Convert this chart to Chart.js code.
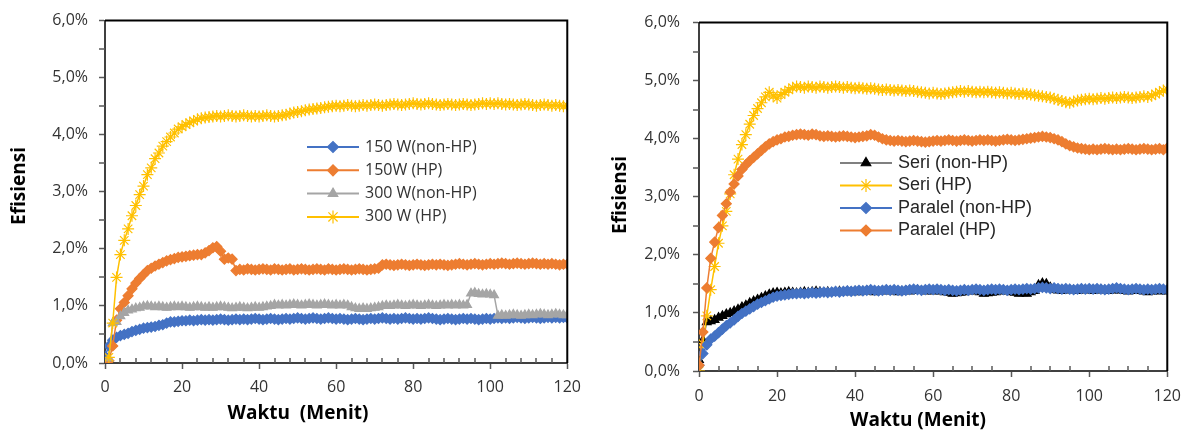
<!DOCTYPE html>
<html>
<head>
<meta charset="utf-8">
<title>Efisiensi terhadap Waktu</title>
<script src="https://cdn.jsdelivr.net/npm/chart.js@4.4.1/dist/chart.umd.min.js"></script>
<style>
  html, body { margin: 0; padding: 0; background: #fff; }
  #wrap { position: relative; width: 1191px; height: 435px; }
  .panel { position: absolute; top: 0; height: 435px; }
</style>
</head>
<body>
<div id="wrap">
  <div class="panel" style="left:0;width:590px"><canvas id="grafikDaya" width="590" height="435"></canvas></div>
  <div class="panel" style="left:595px;width:596px"><canvas id="grafikRangkaian" width="596" height="435"></canvas></div>
</div>
<script>
// waktu pengambilan data (menit)
const menit = [
  0,1,2,3,4,5,6,7,8,9,10,11,12,13,14,15,16,17,18,19,20,
  21,22,23,24,25,26,27,28,29,30,31,32,33,34,35,36,37,38,39,40,
  41,42,43,44,45,46,47,48,49,50,51,52,53,54,55,56,57,58,59,60,
  61,62,63,64,65,66,67,68,69,70,71,72,73,74,75,76,77,78,79,80,
  81,82,83,84,85,86,87,88,89,90,91,92,93,94,95,96,97,98,99,100,
  101,102,103,104,105,106,107,108,109,110,111,112,113,114,115,116,117,118,119,120
];

// efisiensi (%) - variasi daya
const daya150Non = [
  0.12,0.30,0.40,0.45,0.48,0.50,0.52,0.55,0.57,0.59,0.61,0.62,0.63,0.64,0.66,0.67,0.70,0.72,0.72,0.73,0.74,
  0.74,0.75,0.74,0.75,0.76,0.75,0.76,0.75,0.76,0.77,0.76,0.75,0.76,0.77,0.76,0.77,0.76,0.77,0.78,0.77,
  0.76,0.77,0.78,0.77,0.76,0.77,0.78,0.77,0.78,0.79,0.78,0.77,0.78,0.79,0.78,0.77,0.78,0.79,0.78,0.77,
  0.78,0.77,0.76,0.77,0.78,0.77,0.76,0.77,0.78,0.77,0.78,0.79,0.78,0.77,0.78,0.77,0.78,0.79,0.78,0.77,
  0.78,0.77,0.78,0.79,0.78,0.77,0.76,0.77,0.78,0.77,0.76,0.77,0.78,0.77,0.78,0.77,0.76,0.77,0.78,0.77,
  0.78,0.79,0.78,0.79,0.78,0.79,0.80,0.79,0.78,0.79,0.80,0.79,0.78,0.79,0.80,0.79,0.80,0.79,0.80,0.79
];
const daya150HP = [
  null,0.04,0.30,0.75,0.95,1.06,1.18,1.30,1.40,1.48,1.55,1.62,1.66,1.70,1.73,1.76,1.79,1.81,1.83,1.85,1.86,
  1.87,1.88,1.89,1.90,1.90,1.93,1.97,2.02,2.04,1.96,1.82,1.84,1.82,1.62,1.64,1.63,1.65,1.64,1.63,1.64,
  1.65,1.64,1.63,1.65,1.64,1.63,1.64,1.65,1.63,1.64,1.65,1.64,1.63,1.64,1.65,1.64,1.63,1.65,1.64,1.63,
  1.64,1.65,1.64,1.63,1.64,1.65,1.64,1.63,1.64,1.65,1.66,1.72,1.73,1.72,1.71,1.72,1.73,1.72,1.71,1.72,
  1.73,1.72,1.71,1.72,1.73,1.72,1.73,1.72,1.71,1.72,1.73,1.74,1.73,1.72,1.73,1.74,1.73,1.72,1.73,1.74,
  1.73,1.74,1.75,1.74,1.73,1.74,1.75,1.74,1.73,1.74,1.75,1.74,1.73,1.74,1.73,1.74,1.73,1.72,1.73,1.73
];
const daya300Non = [
  null,0.08,0.70,0.72,0.82,0.88,0.92,0.94,0.96,0.97,0.99,1.00,0.99,0.98,0.99,0.98,0.97,0.98,0.99,0.98,0.99,
  0.98,0.97,0.98,0.99,0.98,0.97,0.98,0.97,0.98,0.99,0.98,0.97,0.96,0.97,0.98,0.97,0.96,0.97,0.98,0.97,
  0.98,0.99,1.00,1.02,1.01,1.02,1.01,1.02,1.03,1.02,1.01,1.02,1.03,1.02,1.01,1.02,1.03,1.02,1.01,1.02,
  1.01,1.02,1.01,0.98,0.96,0.95,0.96,0.95,0.96,0.97,0.98,1.00,1.01,1.00,1.01,1.02,1.01,1.00,1.01,1.02,
  1.01,1.00,1.01,1.02,1.01,1.00,1.01,1.02,1.01,1.02,1.01,1.02,1.01,1.02,1.22,1.23,1.21,1.20,1.21,1.20,
  1.19,0.83,0.84,0.83,0.84,0.85,0.84,0.83,0.84,0.85,0.84,0.85,0.86,0.85,0.84,0.85,0.86,0.85,0.84,0.84
];
const daya300HP = [
  null,0.10,0.70,1.50,1.90,2.15,2.35,2.58,2.76,2.95,3.10,3.30,3.42,3.58,3.68,3.80,3.88,3.96,4.03,4.10,4.14,
  4.18,4.21,4.24,4.27,4.29,4.30,4.31,4.32,4.33,4.32,4.33,4.34,4.33,4.32,4.33,4.34,4.33,4.32,4.33,4.32,
  4.33,4.34,4.33,4.32,4.33,4.34,4.35,4.37,4.39,4.40,4.41,4.43,4.44,4.45,4.46,4.47,4.48,4.49,4.50,4.51,
  4.50,4.51,4.52,4.51,4.50,4.51,4.52,4.51,4.52,4.53,4.52,4.51,4.52,4.53,4.54,4.53,4.52,4.53,4.54,4.55,
  4.54,4.53,4.54,4.55,4.54,4.53,4.52,4.53,4.54,4.53,4.52,4.53,4.54,4.53,4.52,4.53,4.54,4.55,4.54,4.55,
  4.54,4.55,4.54,4.53,4.54,4.53,4.52,4.53,4.54,4.53,4.52,4.51,4.52,4.53,4.52,4.51,4.52,4.51,4.50,4.51
];

// efisiensi (%) - rangkaian seri / paralel
const seriNon = [
  0.19,0.53,0.84,0.86,0.88,0.92,0.95,0.98,1.00,1.03,1.06,1.10,1.13,1.17,1.20,1.23,1.26,1.29,1.32,1.34,1.35,
  1.34,1.35,1.36,1.35,1.34,1.35,1.36,1.35,1.36,1.37,1.36,1.35,1.36,1.35,1.36,1.37,1.36,1.37,1.36,1.37,
  1.36,1.37,1.38,1.37,1.36,1.37,1.38,1.37,1.38,1.37,1.36,1.37,1.38,1.37,1.38,1.39,1.38,1.37,1.38,1.37,
  1.38,1.37,1.36,1.35,1.33,1.34,1.35,1.36,1.37,1.38,1.37,1.36,1.33,1.34,1.35,1.36,1.37,1.38,1.37,1.36,
  1.35,1.33,1.34,1.33,1.36,1.38,1.48,1.51,1.50,1.44,1.40,1.39,1.38,1.39,1.40,1.39,1.38,1.39,1.40,1.39,
  1.38,1.39,1.40,1.39,1.38,1.39,1.40,1.39,1.38,1.37,1.38,1.39,1.38,1.37,1.36,1.37,1.38,1.37,1.38,1.37
];
const seriHP = [
  0.00,0.47,0.95,1.40,1.80,2.20,2.50,2.75,3.05,3.38,3.65,3.90,4.07,4.25,4.40,4.52,4.62,4.72,4.80,4.74,4.70,
  4.76,4.80,4.84,4.88,4.90,4.89,4.88,4.90,4.89,4.88,4.90,4.89,4.88,4.89,4.90,4.89,4.88,4.89,4.88,4.87,
  4.88,4.87,4.86,4.87,4.86,4.85,4.84,4.85,4.84,4.83,4.84,4.83,4.82,4.83,4.82,4.81,4.80,4.79,4.78,4.79,
  4.78,4.77,4.78,4.79,4.80,4.81,4.82,4.81,4.82,4.81,4.80,4.81,4.80,4.81,4.80,4.79,4.80,4.79,4.78,4.79,
  4.78,4.77,4.78,4.77,4.76,4.75,4.74,4.73,4.72,4.71,4.69,4.67,4.65,4.63,4.62,4.64,4.66,4.67,4.68,4.69,
  4.68,4.69,4.70,4.69,4.70,4.71,4.70,4.71,4.72,4.71,4.70,4.71,4.72,4.73,4.72,4.74,4.77,4.80,4.83,4.85
];
const paralelNon = [
  0.10,0.30,0.45,0.55,0.60,0.66,0.72,0.78,0.83,0.88,0.94,0.99,1.03,1.07,1.11,1.15,1.18,1.21,1.24,1.27,1.29,
  1.30,1.31,1.32,1.33,1.33,1.34,1.33,1.34,1.35,1.34,1.35,1.36,1.35,1.36,1.37,1.36,1.37,1.38,1.37,1.38,
  1.39,1.38,1.39,1.40,1.39,1.38,1.39,1.40,1.39,1.40,1.39,1.38,1.39,1.40,1.41,1.40,1.39,1.40,1.41,1.40,
  1.41,1.40,1.39,1.40,1.39,1.38,1.39,1.40,1.39,1.40,1.41,1.40,1.39,1.40,1.41,1.40,1.41,1.40,1.39,1.40,
  1.41,1.40,1.41,1.42,1.41,1.42,1.43,1.44,1.43,1.42,1.43,1.42,1.41,1.42,1.41,1.40,1.41,1.42,1.41,1.42,
  1.41,1.42,1.41,1.40,1.41,1.42,1.43,1.42,1.41,1.40,1.41,1.42,1.41,1.40,1.41,1.40,1.41,1.42,1.41,1.40
];
const paralelHP = [
  0.10,0.67,1.43,1.94,2.22,2.47,2.68,2.88,3.08,3.22,3.36,3.47,3.55,3.62,3.68,3.74,3.80,3.86,3.91,3.95,3.98,
  4.00,4.03,4.04,4.06,4.07,4.08,4.07,4.06,4.08,4.07,4.05,4.04,4.05,4.04,4.03,4.04,4.05,4.04,4.03,4.02,
  4.03,4.04,4.05,4.07,4.06,4.03,4.00,3.98,3.97,3.96,3.97,3.96,3.95,3.96,3.97,3.96,3.95,3.94,3.95,3.96,
  3.97,3.96,3.97,3.98,3.97,3.96,3.97,3.98,3.97,3.96,3.97,3.98,3.97,3.98,3.97,3.96,3.97,3.98,3.99,3.98,
  3.97,3.98,3.99,4.00,4.01,4.02,4.03,4.04,4.03,4.02,4.00,3.98,3.95,3.91,3.88,3.86,3.84,3.83,3.82,3.81,
  3.82,3.81,3.82,3.83,3.82,3.81,3.82,3.81,3.82,3.83,3.82,3.81,3.82,3.83,3.82,3.81,3.82,3.83,3.81,3.84
];

const labelDaya = ['150 W(non-HP)', '150W (HP)', '300 W(non-HP)', '300 W (HP)'];
const labelRangkaian = ['Seri (non-HP)', 'Seri (HP)', 'Paralel (non-HP)', 'Paralel (HP)'];

const BIRU = '#4472C4', ORANYE = '#ED7D31', ABU = '#A5A5A5', KUNING = '#FFC000';

Chart.defaults.font.family = '"Open Sans", sans-serif';
Chart.defaults.color = '#333';

// garis tepi atas/kanan + tick minor
const bingkai = {
  id: 'bingkai',
  afterDraw(chart, args, opts) {
    const { ctx, chartArea: a, scales: { x, y } } = chart;
    ctx.save();
    ctx.strokeStyle = '#595959';
    ctx.lineWidth = 1.5;
    ctx.beginPath();
    for (let v = 0.5; v < 6; v += 1) {
      const py = Math.round(y.getPixelForValue(v));
      ctx.moveTo(a.left - 6, py);
      ctx.lineTo(a.left, py);
    }
    for (let t = opts.minorX; t < 120; t += opts.minorX) {
      if (t % 20 === 0) continue;
      const px = Math.round(x.getPixelForValue(t));
      ctx.moveTo(px, a.bottom);
      ctx.lineTo(px, a.bottom - 5);
    }
    ctx.stroke();
    ctx.strokeStyle = '#000';
    ctx.lineWidth = 2;
    ctx.beginPath();
    ctx.moveTo(a.left, a.top);
    ctx.lineTo(a.right, a.top);
    ctx.lineTo(a.right, a.bottom);
    ctx.stroke();
    ctx.restore();
  }
};

// legenda di dalam area grafik
const legendaDalam = {
  id: 'legendaDalam',
  afterDraw(chart, args, opts) {
    const ctx = chart.ctx;
    ctx.save();
    ctx.font = opts.font;
    ctx.textBaseline = 'middle';
    ctx.textAlign = 'left';
    chart.data.datasets.forEach((ds, i) => {
      const y = opts.y + i * opts.gap;
      ctx.strokeStyle = ds.borderColor;
      ctx.lineWidth = 2;
      ctx.beginPath();
      ctx.moveTo(opts.x, y);
      ctx.lineTo(opts.x + opts.len, y);
      ctx.stroke();
      ctx.fillStyle = ds.pointBackgroundColor;
      ctx.strokeStyle = ds.pointBorderColor;
      ctx.lineWidth = 1.2;
      Chart.helpers.drawPoint(ctx, { pointStyle: ds.pointStyle, radius: ds.pointRadius + 0.5, rotation: 0, borderWidth: 1.2 }, opts.x + opts.len / 2, y);
      ctx.fillStyle = opts.color;
      ctx.fillText(ds.label, opts.x + opts.len + opts.pad, y);
    });
    ctx.restore();
  }
};

// judul sumbu
const judulSumbu = {
  id: 'judulSumbu',
  afterDraw(chart, args, opts) {
    const ctx = chart.ctx;
    ctx.save();
    ctx.font = 'bold 19px "Open Sans", sans-serif';
    ctx.fillStyle = '#000';
    ctx.textAlign = 'center';
    ctx.textBaseline = 'middle';
    ctx.fillText(opts.x.text, opts.x.cx, opts.x.cy);
    ctx.translate(opts.y.cx, opts.y.cy);
    ctx.rotate(-Math.PI / 2);
    ctx.fillText(opts.y.text, 0, 0);
    ctx.restore();
  }
};

function seri(label, data, warna, gaya, urutan, opsi) {
  return Object.assign({
    label: label,
    data: data,
    borderColor: warna,
    backgroundColor: warna,
    pointBackgroundColor: warna,
    pointBorderColor: warna,
    pointStyle: gaya,
    pointRadius: gaya === 'star' ? 6 : 5,
    pointBorderWidth: 1.2,
    borderWidth: 1.5,
    tension: 0,
    order: urutan
  }, opsi || {});
}

function opsiGrafik(cfg) {
  return {
    responsive: false,
    animation: false,
    events: [],
    layout: { padding: { top: cfg.top, right: cfg.right, left: 0, bottom: 0 } },
    plugins: {
      legend: { display: false },
      tooltip: { enabled: false },
      bingkai: { minorX: cfg.minorX },
      legendaDalam: cfg.legenda,
      judulSumbu: cfg.judul
    },
    scales: {
      x: {
        type: 'linear',
        min: 0, max: 120,
        border: { color: '#404040', width: 2 },
        grid: { drawOnChartArea: false, tickLength: 6, tickColor: '#595959', tickWidth: 1.5 },
        ticks: { stepSize: 20, padding: cfg.xPad, font: { size: 16 }, color: '#333', maxRotation: 0 },
        afterFit(s) { s.height = cfg.xH; }
      },
      y: {
        min: 0, max: 6,
        border: { color: '#404040', width: 2 },
        grid: { drawOnChartArea: false, tickLength: 6, tickColor: '#595959', tickWidth: 1.5 },
        ticks: {
          stepSize: 1, padding: cfg.yPad, font: { size: 16 }, color: '#333',
          callback: v => v.toFixed(1).replace('.', ',') + '%'
        },
        afterFit(s) { s.width = cfg.yW; }
      }
    }
  };
}

new Chart(document.getElementById('grafikDaya'), {
  type: 'line',
  data: {
    labels: menit,
    datasets: [
      seri(labelDaya[0], daya150Non, BIRU, 'rectRot', 3),
      seri(labelDaya[1], daya150HP, ORANYE, 'rectRot', 2),
      seri(labelDaya[2], daya300Non, ABU, 'triangle', 1),
      seri(labelDaya[3], daya300HP, KUNING, 'star', 0)
    ]
  },
  options: opsiGrafik({
    top: 17, right: 22, xH: 72, yW: 105, xPad: 9, yPad: 11, minorX: 4,
    legenda: { x: 307, y: 147, gap: 23.3, len: 52, pad: 6, font: '16px "Open Sans", sans-serif', color: '#333' },
    judul: { x: { text: 'Waktu  (Menit)', cx: 298, cy: 414 }, y: { text: 'Efisiensi', cx: 20, cy: 186 } }
  }),
  plugins: [bingkai, legendaDalam, judulSumbu]
});

new Chart(document.getElementById('grafikRangkaian'), {
  type: 'line',
  data: {
    labels: menit,
    datasets: [
      seri(labelRangkaian[0], seriNon, '#000', 'triangle', 3, { borderColor: '#808080' }),
      seri(labelRangkaian[1], seriHP, KUNING, 'star', 2),
      seri(labelRangkaian[2], paralelNon, BIRU, 'rectRot', 1),
      seri(labelRangkaian[3], paralelHP, ORANYE, 'rectRot', 0)
    ]
  },
  options: opsiGrafik({
    top: 18, right: 22, xH: 64, yW: 104, xPad: 10, yPad: 13, minorX: 5,
    legenda: { x: 245, y: 163, gap: 22.5, len: 52, pad: 6, font: '18px "Liberation Sans", sans-serif', color: '#262626' },
    judul: { x: { text: 'Waktu (Menit)', cx: 323, cy: 421 }, y: { text: 'Efisiensi', cx: 26, cy: 195 } }
  }),
  plugins: [bingkai, legendaDalam, judulSumbu]
});
</script>
</body>
</html>
